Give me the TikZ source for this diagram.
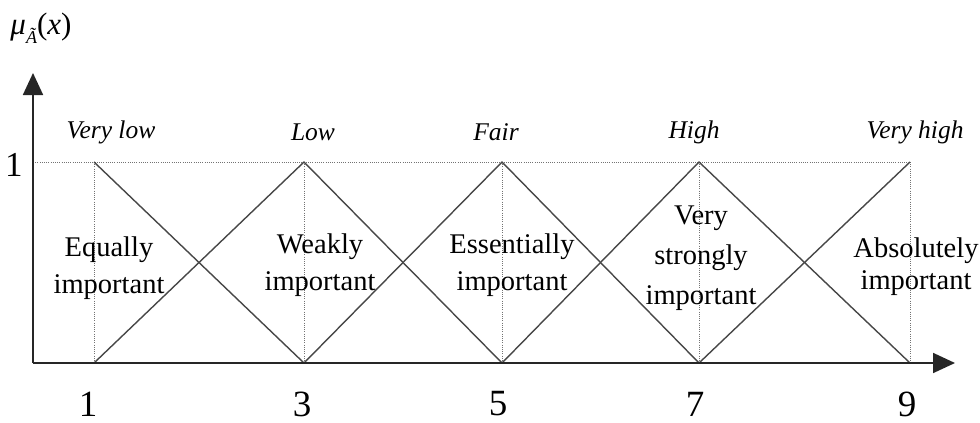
\documentclass[tikz,border=0pt]{standalone}
\usepackage{fontspec}
\setmainfont{Liberation Serif}
\usetikzlibrary{arrows.meta}
\begin{document}
\begin{tikzpicture}[x=1pt,y=-1pt,
  axisline/.style={line width=1.8pt,draw=black!85,-{Triangle[length=22pt,width=20pt]}},
  triline/.style={line width=1.4pt,draw=black!72},
  dotline/.style={line width=1pt,draw=black!55,dash pattern=on 1pt off 1.2pt},
  catlab/.style={inner sep=0pt,font=\fontsize{25.5}{28}\selectfont\itshape},
  numlab/.style={inner sep=0pt,font=\fontsize{37}{40}\selectfont},
  desc/.style={inner sep=0pt,align=center,font=\fontsize{28.5}{37}\selectfont}]
\useasboundingbox (0,0) rectangle (980,423);
\coordinate (O) at (33,363);
\coordinate (ytop) at (33,73);
\coordinate (xend) at (955,363);
\coordinate (yone) at (33,162);
\foreach \n/\x in {1/94,3/304,5/502,7/699,9/910}{
  \coordinate (p\n) at (\x,162);
  \coordinate (b\n) at (\x,363);
}
% dotted guides
\draw[dotline] (yone) -- (p9);
\foreach \n in {1,3,5,7,9}{\draw[dotline] (p\n) -- (b\n);}
% triangular membership functions
\draw[triline] (p1) -- (b3);
\draw[triline] (b1) -- (p3) -- (b5);
\draw[triline] (b3) -- (p5) -- (b7);
\draw[triline] (b5) -- (p7) -- (b9);
\draw[triline] (b7) -- (p9);
% axes
\draw[axisline] (O) -- (ytop);
\draw[axisline] (O) -- (xend);
% axis labels
\node[inner sep=0pt,font=\fontsize{31}{32}\selectfont] (mu) at (41,28)
  {\textit{μ}\raisebox{-0.3em}{\fontsize{18}{18}\selectfont\textit{Ã}}(\textit{x})};
\node[inner sep=0pt,font=\fontsize{35}{38}\selectfont] (yonelab) at (14,165) {1};
% category labels
\node[catlab] (vl) at (111,132) {Very low};
\node[catlab] (lo) at (313,132) {Low};
\node[catlab] (fa) at (496,132) {Fair};
\node[catlab] (hi) at (694,132) {High};
\node[catlab] (vh) at (915,132) {Very high};
% numbers
\node[numlab] (n1) at (88,404) {1};
\node[numlab] (n3) at (302,404) {3};
\node[numlab] (n5) at (498,404) {5};
\node[numlab] (n7) at (695,404) {7};
\node[numlab] (n9) at (907,404) {9};
% descriptions
\node[desc] (eq) at (109,268) {Equally\\important};
\node[desc] (wk) at (320,265) {Weakly\\important};
\node[desc] (es) at (512,265) {Essentially\\important};
\node[desc,font=\fontsize{28.5}{40}\selectfont] (vs) at (701,258) {Very\\strongly\\important};
\node[desc,font=\fontsize{28.5}{32}\selectfont] (ab) at (916,267) {Absolutely\\important};
\end{tikzpicture}
\end{document}
